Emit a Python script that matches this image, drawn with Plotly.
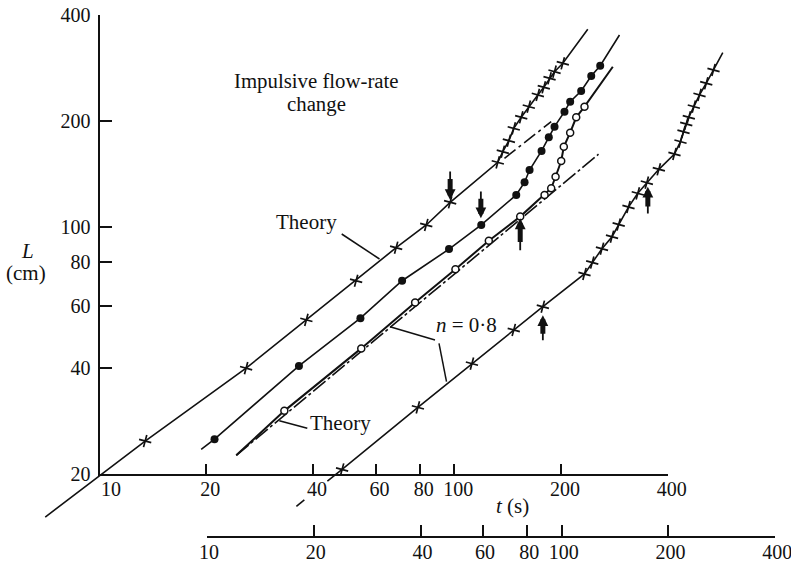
import numpy as np
import plotly.graph_objects as go

# ---------------- data (t in s on the upper time axis, L in cm) ----------------
# Series 1: crosses, upper-left line ("Theory")
s1_t = [13.45, 25.9, 38.3, 52.9, 68.6, 83.4, 97.4, 132.7, 137.1, 142.6, 147.2, 154.5,
        162.3, 172.1, 178.9, 185.7, 191.8, 202.4]
s1_L = [24.8, 39.9, 54.7, 70.6, 87.6, 101.6, 117.8, 152.9, 163.9, 176.1, 190.9, 205.2,
        219.9, 237.4, 249.6, 264.7, 276.3, 291.9]
s1_line_start = (7.03, 15.1)
s1_line_end = (238.0, 364.4)
s1_theory_t = [138.6, 187.7]
s1_theory_L = [157.0, 199.4]

# Series 2: filled circles
s2_t = [21.1, 36.5, 54.4, 71.3, 96.7, 119.2, 149.6, 157.9, 163.1, 176.3, 184.8, 191.8,
        204.6, 212.3, 228.0, 243.4, 258.0]
s2_L = [25.1, 40.5, 55.3, 70.6, 86.8, 101.6, 123.6, 134.3, 145.4, 164.7, 180.1, 193.0,
        212.8, 227.2, 243.6, 268.7, 287.3]
s2_line_start = (19.35, 23.5)
s2_line_end = (292.4, 351.1)

# Series 3: open circles
s3_t = [33.2, 54.7, 77.6, 100.8, 125.2, 153.5, 179.8, 187.7, 193.1, 200.3, 203.7, 212.3,
        220.8, 233.0]
s3_L = [30.2, 45.4, 61.3, 76.1, 91.7, 107.3, 123.6, 129.1, 139.2, 154.2, 169.3, 185.5,
        205.2, 219.9]
s3_line_start = (24.3, 22.6)
s3_line_end = (280.0, 285.4)
s3_theory_t = [24.3, 255.2]
s3_theory_L = [22.6, 161.2]

# Series 4: crosses, lower-right line
s4_t = [48.3, 79.0, 112.2, 147.2, 177.8, 233.0, 245.0, 261.0, 278.6, 290.9, 310.0, 329.3,
        349.2, 377.5, 417.9, 434.5, 443.1, 451.0, 458.6, 473.8, 491.6, 513.5, 538.4]
s4_L = [20.6, 30.9, 41.1, 51.2, 59.6, 73.8, 79.5, 87.0, 94.1, 101.9, 114.2, 124.9,
        133.9, 146.1, 161.5, 175.0, 186.7, 196.4, 205.2, 219.9, 237.4, 256.2, 279.4]
s4_line_start = (43.9, 19.1)
s4_line_end = (571.8, 312.7)
s4_dash_t = [35.9, 37.8]
s4_dash_L = [16.2, 16.9]

# Arrows marking the impulsive flow-rate change (t, L at tail, L at tip)
arrow_t = [97.4, 118.9, 153.5, 177.8, 351.5]
arrow_L_tail = [145.4, 127.6, 85.3, 47.4, 108.4]
arrow_L_tip = [119.6, 106.1, 106.1, 56.4, 130.4]

# Axis ticks
y_ticks = [20, 40, 60, 80, 100, 200, 400]
t_ticks = [10, 20, 40, 60, 80, 100, 200, 400]
t_ticktext = ["\u00a0\u00a0\u00a010", "20", "40", "60", "80", "100", "200", "400"]
t2_ticks = [10, 20, 40, 60, 80, 100, 200, 400]

# ---------------- layout geometry ----------------
W, H = 791, 565
PPD_X = 354.7   # pixels per decade (time)
PPD_Y = 352.8   # pixels per decade (length)
X0 = 99.5       # pixel of t = 10 on upper axis
Y0 = 474.0      # pixel of L = 20
X2_0 = 207.0    # pixel of t = 10 on lower axis
Y2_LINE = 536.0

def px(x):
    return x / W

def py(y):
    return 1 - y / H

FONT = "Liberation Serif"
INK = "#111111"

fig = go.Figure()
LW = 1.6

# empty traces so that the two axis frames are created as subplots
fig.add_trace(go.Scatter(x=[], y=[], xaxis="x", yaxis="y", showlegend=False,
                         hoverinfo="skip"))
fig.add_trace(go.Scatter(x=[], y=[], xaxis="x2", yaxis="y4", showlegend=False,
                         hoverinfo="skip"))

def line_trace(t, L, width=LW, dash="solid"):
    return go.Scatter(x=t, y=L, mode="lines", xaxis="x3", yaxis="y3",
                      line=dict(color=INK, width=width, dash=dash),
                      hoverinfo="skip", showlegend=False)

# series 1
fig.add_trace(line_trace([s1_line_start[0]] + s1_t + [s1_line_end[0]],
                         [s1_line_start[1]] + s1_L + [s1_line_end[1]]))
fig.add_trace(line_trace(s1_theory_t, s1_theory_L, dash="14px,4px,3px,4px"))
fig.add_trace(go.Scatter(x=s1_t, y=s1_L, mode="markers", xaxis="x3", yaxis="y3",
                         marker=dict(symbol="cross-thin", size=9, angle=15,
                                     line=dict(color=INK, width=1.7)),
                         hoverinfo="skip", showlegend=False))
# series 2
fig.add_trace(line_trace([s2_line_start[0]] + s2_t + [s2_line_end[0]],
                         [s2_line_start[1]] + s2_L + [s2_line_end[1]]))
fig.add_trace(go.Scatter(x=s2_t, y=s2_L, mode="markers", xaxis="x3", yaxis="y3",
                         marker=dict(symbol="circle", size=8, color=INK),
                         hoverinfo="skip", showlegend=False))
# series 3
fig.add_trace(line_trace(s3_theory_t, s3_theory_L, width=1.6, dash="16px,3px,3px,3px"))
fig.add_trace(line_trace([s3_line_start[0]] + s3_t + [s3_line_end[0]],
                         [s3_line_start[1]] + s3_L + [s3_line_end[1]], width=2.0))
fig.add_trace(go.Scatter(x=s3_t, y=s3_L, mode="markers", xaxis="x3", yaxis="y3",
                         marker=dict(symbol="circle", size=7, color="white",
                                     line=dict(color=INK, width=1.5)),
                         hoverinfo="skip", showlegend=False))
# series 4
fig.add_trace(line_trace(s4_dash_t, s4_dash_L))
fig.add_trace(line_trace([s4_line_start[0]] + s4_t + [s4_line_end[0]],
                         [s4_line_start[1]] + s4_L + [s4_line_end[1]]))
fig.add_trace(go.Scatter(x=s4_t, y=s4_L, mode="markers", xaxis="x3", yaxis="y3",
                         marker=dict(symbol="cross-thin", size=9, angle=15,
                                     line=dict(color=INK, width=1.7)),
                         hoverinfo="skip", showlegend=False))

annotations = []
# arrows
for t, lt, lh in zip(arrow_t, arrow_L_tail, arrow_L_tip):
    xt = np.log10(t)
    a, b = np.log10(lt), np.log10(lh)
    annotations.append(dict(x=xt, y=b, ax=xt, ay=a, xref="x3", yref="y3",
                            axref="x3", ayref="y3", text="", showarrow=True,
                            arrowhead=2, arrowsize=1.2, arrowwidth=1.8,
                            arrowcolor=INK))
    annotations.append(dict(x=xt, y=a + 0.85 * (b - a), ax=xt, ay=a + 0.25 * (b - a),
                            xref="x3", yref="y3", axref="x3", ayref="y3", text="",
                            showarrow=True, arrowhead=0, arrowwidth=5,
                            arrowcolor=INK))

def label(text, x, y, size=21, xanchor="center"):
    annotations.append(dict(text=text, x=px(x), y=py(y), xref="paper", yref="paper",
                            showarrow=False, xanchor=xanchor, yanchor="middle",
                            font=dict(family=FONT, size=size, color=INK)))

label("Impulsive flow-rate", 316.5, 81.5, size=20.8)
label("change", 316.5, 104, size=20.8)
label("Theory", 306.5, 222)
label("Theory", 340, 423)
label("<i>n</i> = 0·8", 466.5, 325)
label("<i>t</i> (s)", 512, 506)
label("<i>L</i>", 27, 251)
label("(cm)", 26, 273)

shapes = []
for (x0, y0, x1, y1) in [(341.7, 234, 379.5, 259), (279.3, 420.7, 307.3, 428.3),
                         (390, 326.7, 435, 340), (439, 343.3, 446.5, 381.7)]:
    shapes.append(dict(type="line", xref="paper", yref="paper",
                       x0=px(x0), y0=py(y0), x1=px(x1), y1=py(y1),
                       line=dict(color=INK, width=1.5)))

tickfont = dict(family=FONT, size=20, color=INK)
axis_common = dict(type="log", showline=True, linecolor=INK, linewidth=2,
                   ticks="inside", tickcolor=INK, tickwidth=2, showgrid=False,
                   zeroline=False, automargin=False, tickfont=tickfont,
                   fixedrange=True, ticklabeloverflow="allow")

fig.update_layout(
    width=W, height=H, margin=dict(l=0, r=0, t=0, b=0, pad=0),
    paper_bgcolor="white", plot_bgcolor="rgba(0,0,0,0)", showlegend=False,
    xaxis=dict(**axis_common, domain=[px(X0), px(X0 + PPD_X * np.log10(40))],
               range=[1, np.log10(400)], anchor="y", tickvals=t_ticks,
               ticktext=t_ticktext, ticklen=10, ticklabelshift=4,
               ticklabelstandoff=-4),
    yaxis=dict(**axis_common, domain=[py(Y0), py(Y0 - PPD_Y * np.log10(20))],
               range=[np.log10(20), np.log10(400)], anchor="x", tickvals=y_ticks,
               ticktext=[str(v) for v in y_ticks], ticklen=12,
               ticklabelstandoff=3),
    xaxis2=dict(**axis_common, domain=[px(X2_0), px(X2_0 + PPD_X * np.log10(40))],
                range=[1, np.log10(400)], anchor="y4", tickvals=t2_ticks,
                ticktext=[str(v) for v in t2_ticks], ticklen=11,
                ticklabelshift=2, ticklabelstandoff=-3),
    yaxis4=dict(domain=[py(Y2_LINE), py(Y2_LINE - 100)], anchor="x2", visible=False,
                range=[0, 1], fixedrange=True),
    xaxis3=dict(type="log", domain=[0, 1], anchor="y3", visible=False,
                range=[1 - X0 / PPD_X, 1 + (W - X0) / PPD_X], fixedrange=True),
    yaxis3=dict(type="log", domain=[0, 1], anchor="x3", visible=False,
                range=[np.log10(20) - (H - Y0) / PPD_Y, np.log10(20) + Y0 / PPD_Y],
                fixedrange=True),
    annotations=annotations, shapes=shapes,
)

fig.write_html("out.html")
